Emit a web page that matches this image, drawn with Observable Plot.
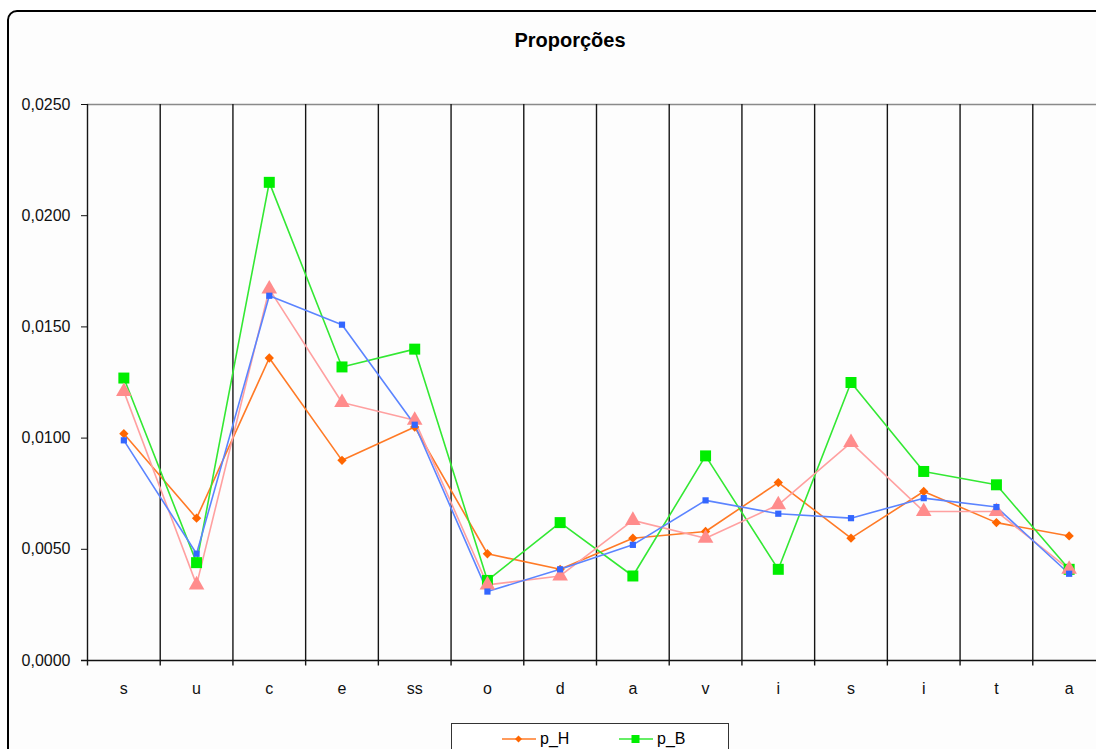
<!DOCTYPE html>
<html>
<head>
<meta charset="utf-8">
<script src="https://cdn.jsdelivr.net/npm/d3@7"></script>
<script src="https://cdn.jsdelivr.net/npm/@observablehq/plot@0.6"></script>
<style>
  html, body { margin: 0; padding: 0; width: 1096px; height: 749px; overflow: hidden; background: #ffffff; }
  #frame { position: absolute; left: 7px; top: 10px; width: 1110px; height: 780px;
           border: 2px solid #000; border-top-left-radius: 10px; background: #fdfdfd; box-sizing: border-box; }
  #title { position: absolute; left: 0; width: 1140px; top: 29px; text-align: center;
           font: bold 20px "Liberation Sans", Arial, sans-serif; color: #000; }
  #chart { position: absolute; left: 0; top: 90px; width: 1110px; }
  #chart svg { max-width: none !important; }
  #legend { position: absolute; left: 451px; top: 723px; width: 278px; height: 50px;
            border: 1.5px solid #333; background: #fff; box-sizing: border-box; }
  .item { position: absolute; top: 6px; font: 16px "Liberation Sans", Arial, sans-serif; color: #000; display: flex; align-items: center; }
  .item svg { margin-right: 4px; }
</style>
</head>
<body>
<div id="frame"></div>
<div id="title">Proporções</div>
<div id="chart"></div>
<div id="legend"></div>
<script>
// ---- data ----
const categories = ["s","u","c","e","ss","o","d","a","v","i","s","i","t","a"];
const pH    = [0.0102,0.0064,0.0136,0.0090,0.0105,0.0048,0.0041,0.0055,0.0058,0.0080,0.0055,0.0076,0.0062,0.0056];
const pB    = [0.0127,0.0044,0.0215,0.0132,0.0140,0.0036,0.0062,0.0038,0.0092,0.0041,0.0125,0.0085,0.0079,0.0041];
const serie3 = [0.0121,0.0034,0.0167,0.0116,0.0108,0.0034,0.0038,0.0063,0.0055,0.0070,0.0098,0.0067,0.0067,0.0041];
const serie4 = [0.0099,0.0048,0.0164,0.0151,0.0106,0.0031,0.0041,0.0052,0.0072,0.0066,0.0064,0.0073,0.0069,0.0039];
const yTicks = [0, 0.005, 0.010, 0.015, 0.020, 0.025];
const legendNames = ["p_H", "p_B"];

const series = [
  {name: "p_H", values: pH, color: "#ff6600", symbol: "diamond2", r: 4.2, lineColor: "#ff7a26"},
  {name: "p_B", values: pB, color: "#00ee00", symbol: "square", r: 6.2, lineColor: "#33e833"},
  {name: "s3",  values: serie3, color: "#ff8c8c", symbol: "triangle", r: 5.8, lineColor: "#ffa0a0"},
  {name: "s4",  values: serie4, color: "#3366ff", symbol: "square", r: 3.5, lineColor: "#5b84ff"}
];

const rows = s => s.values.map((v, i) => ({x: i + 0.5, v, cat: categories[i]}));
const fmt = v => d3.format(".4f")(v).replace(".", ",");

const marks = [
  Plot.ruleY([0.025], {stroke: "#8a8a8a", strokeWidth: 1.3}),
  Plot.ruleX(d3.range(categories.length + 1), {y1: -0.00025, y2: 0.025, stroke: "#151515", strokeWidth: 1.4}),
  Plot.axisY(yTicks, {tickSize: 6, tickPadding: 11, tickFormat: fmt, label: null, fontSize: 16, stroke: "#111", fill: "#111"}),
  Plot.axisX(categories.map((c, i) => i + 0.5), {tickSize: 0, tickPadding: 22, tickFormat: d => categories[Math.floor(d)], label: null, fontSize: 16, fill: "#111"}),
  Plot.ruleY([0], {x1: -6 / 72.7, x2: categories.length, stroke: "#111", strokeWidth: 1.4})
];
for (const s of series) {
  marks.push(Plot.line(rows(s), {x: "x", y: "v", stroke: s.lineColor, strokeWidth: 1.6}));
}
for (const s of series) {
  marks.push(Plot.dot(rows(s), {x: "x", y: "v", symbol: () => s.symbol, fill: s.color, stroke: "none", r: s.r}));
}

const chart = Plot.plot({
  width: 1110, height: 610,
  marginLeft: 87, marginRight: 5, marginTop: 14, marginBottom: 40,
  x: {domain: [0, categories.length], axis: null},
  y: {domain: [0, 0.025], axis: null},
  symbol: {type: "identity"},
  style: {fontFamily: "'Liberation Sans', Arial, sans-serif", fontSize: "16px", background: "transparent", overflow: "visible", maxWidth: "none"},
  marks
});
document.getElementById("chart").appendChild(chart);

// ---- legend ----
const legend = document.getElementById("legend");
const lx = [50, 167];
legendNames.forEach((name, i) => {
  const s = series.find(d => d.name === name);
  const item = document.createElement("div");
  item.className = "item";
  item.style.left = lx[i] + "px";
  const sym = s.symbol === "diamond2"
    ? `<path d="M16.5,3.5 L20,7 L16.5,10.5 L13,7 Z" fill="${s.color}"/>`
    : `<rect x="12.5" y="3" width="8" height="8" fill="${s.color}"/>`;
  item.innerHTML = `<svg width="34" height="14"><line x1="0" y1="7" x2="34" y2="7" stroke="${s.lineColor}" stroke-width="1.6"/>${sym}</svg><span>${name}</span>`;
  legend.appendChild(item);
});
</script>
</body>
</html>
